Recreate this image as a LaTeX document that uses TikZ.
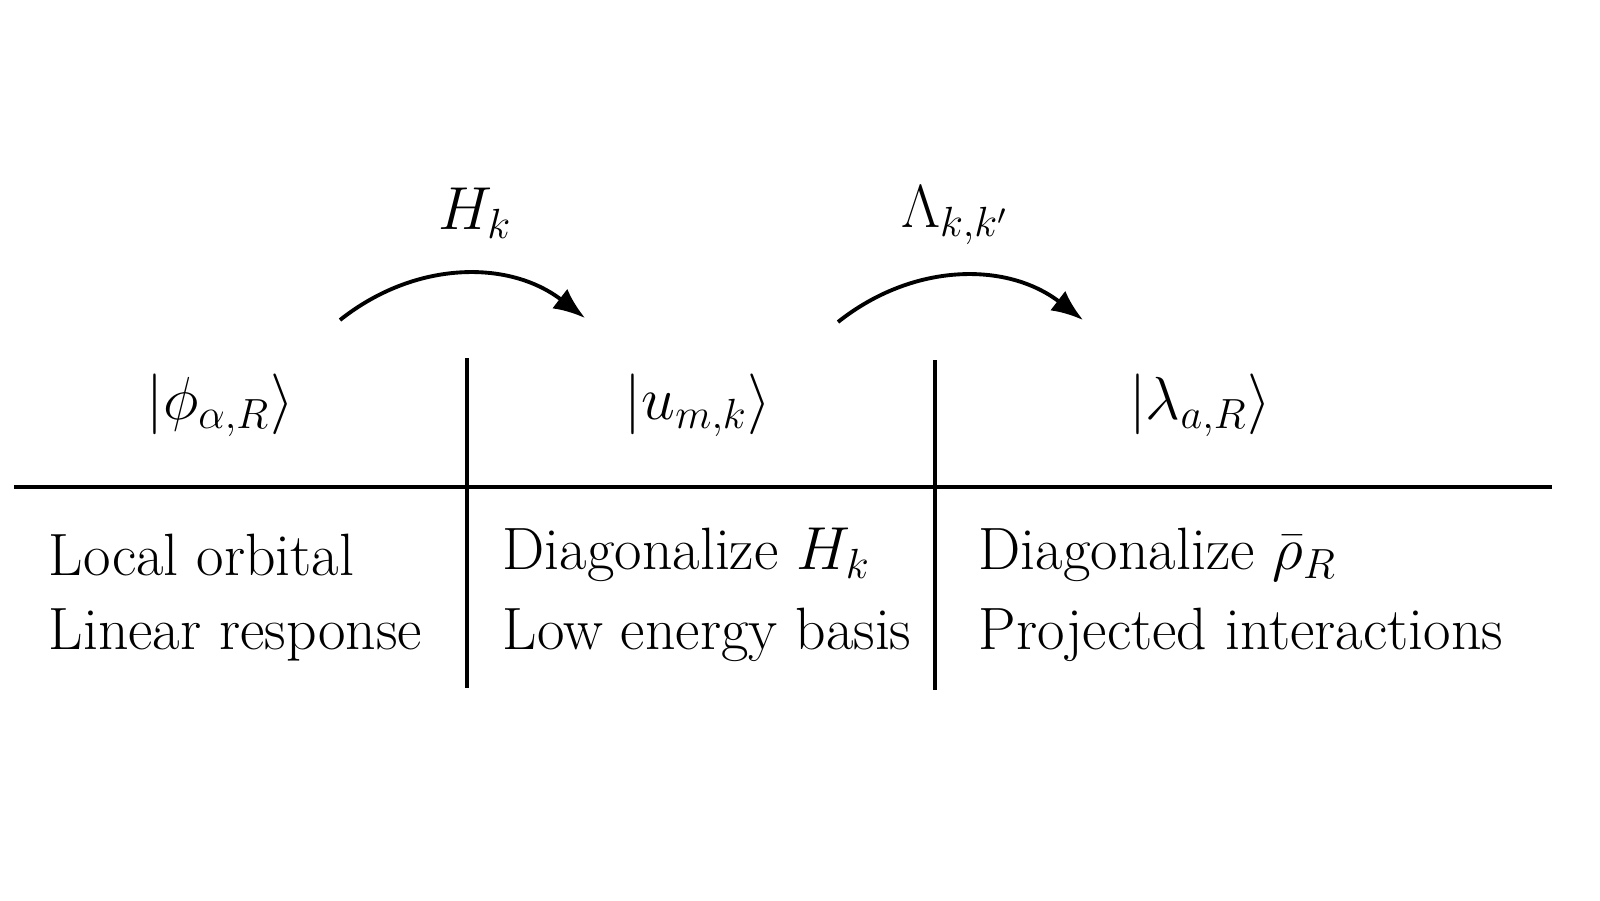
\documentclass[tikz,border=0pt]{standalone}
\usepackage{amsmath}
\usepackage{tikz}
\usetikzlibrary{positioning,arrows.meta}

\begin{document}
\begin{tikzpicture}
        [every node/.style={font=\fontsize{17}{20}\selectfont},
         txt/.style={anchor=west,inner sep=0pt},
         rule/.style={line width=1.1pt}]
        \useasboundingbox (0,0) rectangle (16,9);

        \node (ket1) at (2.20, 4.95) {$|\phi_{\alpha,R}\rangle$};
        \node (ket2) at (6.98, 4.95) {$|u_{m,k}\rangle$};
        \node (ket3) at (12.00, 4.95) {$|\lambda_{a,R}\rangle$};

        \node[txt] (t1a) at (0.48, 3.45) {Local orbital};
        \node[txt] (t1b) at (0.48, 2.65) {Linear response};
        \node[txt] (t2a) at (5.02, 3.45) {Diagonalize $H_k$};
        \node[txt] (t2b) at (5.02, 2.65) {Low energy basis};
        \node[txt] (t3a) at (9.78, 3.45) {Diagonalize $\bar\rho_R$};
        \node[txt] (t3b) at (9.78, 2.65) {Projected interactions};

        % table rules
        \coordinate (hl) at (0.14, 4.13);
        \coordinate (hr) at (15.52, 4.13);
        \coordinate (v1t) at (4.67, 5.42);
        \coordinate (v1b) at (4.67, 2.12);
        \coordinate (v2t) at (9.35, 5.40);
        \coordinate (v2b) at (9.35, 2.10);
        \draw[rule] (hl) -- (hr);
        \draw[rule] (v1t) -- (v1b);
        \draw[rule] (v2t) -- (v2b);

        % maps
        \coordinate (a1s) at (3.40, 5.80);
        \coordinate (a1e) at (5.85, 5.82);
        \coordinate (a2s) at (8.38, 5.78);
        \coordinate (a2e) at (10.83, 5.80);
        \node (h) at (4.75, 6.87) {$H_k$};
        \node (lam) at (9.55, 6.85) {$\Lambda_{k,k'}$};
        \foreach \from/\to in {a1s/a1e, a2s/a2e}
            \draw[rule,-{Latex[length=9pt,width=7pt]}] (\from) to[bend left=38] (\to);
\end{tikzpicture}
\end{document}
